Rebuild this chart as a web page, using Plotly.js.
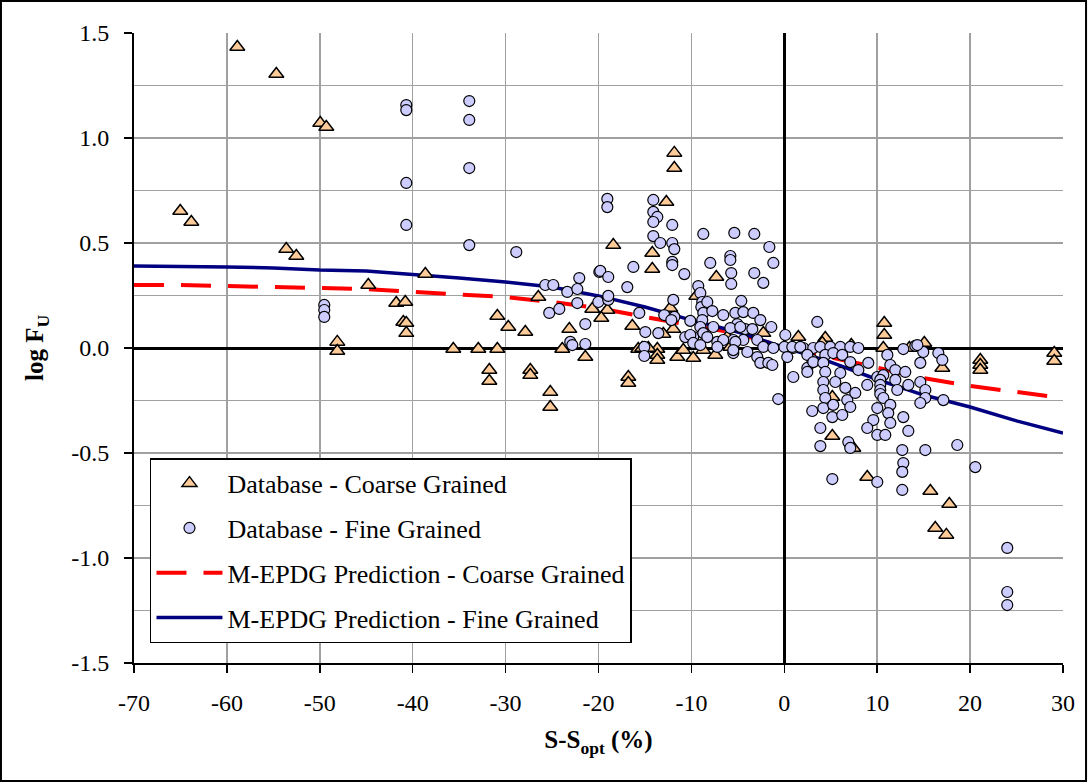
<!DOCTYPE html>
<html>
<head>
<meta charset="utf-8">
<script src="https://cdn.plot.ly/plotly-3.0.1.min.js"></script>
<style>html,body{margin:0;padding:0;background:#fff;}#chart{width:1088px;height:783px;}</style>
</head>
<body>
<div id="chart"></div>
<script>
// Database - Coarse Grained
const coarseX = [-58.88,-54.68,-49.95,-49.30,-65.02,-63.83,-53.61,-52.53,-38.64,-44.78,-41.77,-40.80,-41.01,-40.69,-40.69,-48.12,-48.12,-35.63,-32.94,-30.89,-30.89,-29.71,-27.88,-31.75,-31.75,-26.48,-27.34,-27.34,-25.19,-25.19,-23.14,-23.90,-21.42,-20.67,-11.84,-11.84,-12.70,-18.41,-14.21,-14.21,-7.32,-19.05,-19.70,-16.36,-11.95,-13.02,-12.27,-9.47,-13.67,-13.67,-13.67,-15.72,-11.52,-9.80,-7.43,-16.79,-16.79,-2.26,1.51,-10.87,-6.14,-15.29,-14.64,10.76,10.76,4.41,7.21,10.66,13.46,15.07,17.01,5.17,5.17,7.43,8.93,15.72,17.76,16.25,17.44,21.10,21.10,21.10,29.06,29.06,-8.72,-5.81,4.09];
const coarseY = [1.433,1.305,1.071,1.052,0.652,0.600,0.471,0.438,0.352,0.300,0.214,0.219,0.124,0.119,0.071,0.029,-0.014,-0.005,-0.005,-0.005,0.152,0.100,0.076,-0.105,-0.157,0.243,-0.105,-0.129,-0.210,-0.281,0.090,-0.005,-0.043,0.186,0.929,0.857,0.695,0.490,0.452,0.376,0.338,0.181,0.143,0.105,0.090,0.067,0.190,0.248,-0.005,-0.033,-0.057,-0.005,-0.043,-0.048,-0.033,-0.138,-0.167,0.071,0.052,-0.010,0.052,0.000,0.000,0.119,0.062,0.048,0.014,0.000,0.000,0.024,-0.095,-0.233,-0.419,-0.476,-0.614,-0.681,-0.743,-0.857,-0.890,-0.057,-0.081,-0.105,-0.024,-0.062,-0.010,0.005,0.024];

// Database - Fine Grained
const fineX = [-40.69,-40.69,-40.69,-40.69,-33.91,-33.91,-33.91,-33.91,-28.85,-49.52,-49.52,-49.52,-25.73,-24.87,-23.36,-22.28,-22.07,-19.91,-25.30,-24.22,-22.28,-21.42,-20.02,-23.04,-22.82,-21.42,-19.05,-19.05,-14.10,-14.10,-13.67,-14.10,-12.06,-14.10,-13.35,-12.06,-11.84,-12.06,-12.06,-10.76,-16.25,-16.90,-19.81,-18.95,-18.95,-18.95,-15.61,-14.96,-13.56,-15.07,-15.07,-11.95,-12.92,-11.84,-12.16,-10.12,-8.72,-5.38,-3.23,-1.61,-1.18,-7.97,-5.81,-5.81,-5.71,-5.71,-3.23,-2.26,-9.26,-9.04,-8.83,-8.93,-8.72,-8.83,-8.29,-7.75,-4.63,-6.57,-5.27,-4.41,-3.34,-2.58,-1.40,-9.04,-7.64,-5.06,-4.20,-3.44,-10.66,-9.80,-8.72,-7.21,-5.49,-4.41,-2.91,0.11,0.00,-2.26,-1.18,0.97,2.05,3.12,-5.49,-3.98,-2.91,-2.58,-1.72,-1.29,3.55,0.97,2.48,3.01,-10.12,-9.80,-5.81,-4.74,-8.29,-6.57,-5.27,-7.21,-5.49,0.32,-9.04,0.86,1.72,3.88,4.95,6.03,7.10,7.97,2.48,3.12,2.48,4.41,4.20,4.41,4.20,4.20,4.41,4.20,3.01,5.27,6.24,7.10,6.03,5.49,5.27,5.17,3.88,3.88,5.17,6.57,6.78,7.10,6.24,6.89,7.10,7.64,7.97,9.04,8.93,10.01,10.66,10.33,10.33,10.33,10.33,11.09,11.41,10.66,10.01,11.41,11.19,11.41,9.58,8.93,10.01,10.87,11.95,13.02,11.95,13.35,12.16,12.81,14.10,14.96,16.58,14.64,14.64,15.18,15.18,14.64,17.12,18.62,12.70,15.18,12.81,12.70,12.70,10.01,17.01,20.56,24.00,24.00,24.00,14.32,13.35,12.81,-0.65];
const fineY = [1.157,1.133,0.786,0.586,1.176,1.086,0.857,0.490,0.457,0.205,0.181,0.148,0.300,0.300,0.267,0.281,0.333,0.362,0.167,0.186,0.214,0.114,0.219,0.029,0.014,0.019,0.710,0.671,0.705,0.648,0.624,0.600,0.586,0.533,0.500,0.500,0.471,0.410,0.395,0.352,0.386,0.290,0.367,0.338,0.229,0.248,0.167,0.076,0.071,0.005,-0.038,0.229,0.157,0.148,0.133,0.129,0.543,0.548,0.543,0.481,0.405,0.405,0.438,0.419,0.357,0.305,0.357,0.310,0.295,0.262,0.219,0.195,0.167,0.133,0.219,0.176,0.224,0.157,0.167,0.171,0.167,0.133,0.100,0.100,0.100,0.114,0.090,0.090,0.052,0.052,0.071,0.029,0.038,0.038,0.038,0.062,0.005,0.005,0.000,0.000,0.000,0.000,-0.024,-0.019,-0.043,-0.071,-0.071,-0.081,0.124,-0.138,-0.095,-0.057,0.062,0.024,0.095,0.100,0.052,0.038,0.029,0.005,-0.010,-0.043,0.014,0.005,0.005,0.005,0.005,0.005,0.005,0.000,-0.033,-0.067,-0.114,-0.033,-0.071,-0.114,-0.162,-0.200,-0.238,-0.286,-0.300,-0.024,-0.033,-0.067,-0.119,-0.162,-0.271,-0.329,-0.381,-0.467,-0.624,-0.190,-0.248,-0.281,-0.319,-0.448,-0.476,-0.214,-0.105,-0.071,-0.176,-0.138,-0.129,-0.152,-0.176,-0.200,-0.219,-0.033,-0.081,-0.238,-0.286,-0.271,-0.310,-0.357,-0.343,-0.381,-0.414,-0.414,-0.105,-0.114,-0.152,-0.176,-0.200,-0.005,0.010,-0.019,-0.024,-0.071,-0.162,-0.200,-0.238,-0.262,-0.248,-0.462,-0.486,-0.486,-0.548,-0.590,-0.676,-0.638,-0.057,-0.567,-0.952,-1.162,-1.224,0.014,-0.395,-0.329,-0.243];

// M-EPDG predictions
const predX = [-70,-65,-60,-55,-50,-45,-40,-35,-30,-25,-20,-15,-10,-5,0,5,10,15,20,25,30];
const predCoarseY = [0.300,0.300,0.295,0.290,0.286,0.281,0.267,0.257,0.243,0.219,0.190,0.148,0.110,0.068,0.005,-0.043,-0.095,-0.143,-0.181,-0.210,-0.238];
const predFineY = [0.390,0.390,0.386,0.381,0.371,0.367,0.352,0.333,0.314,0.290,0.248,0.195,0.133,0.076,0.003,-0.067,-0.150,-0.224,-0.281,-0.347,-0.405];

const xTickVals = [-70,-60,-50,-40,-30,-20,-10,0,10,20,30];
const yTickVals = [-1.5,-1.0,-0.5,0.0,0.5,1.0,1.5];

const FONT = "'Liberation Serif', 'Times New Roman', serif";
const TICK_FS = 24;
const LEG_FS = 26;
const TITLE_FS = 25;
const GRID = '#a0a0a0';

const traces = [
  {x: predX, y: predCoarseY, type: 'scatter', mode: 'lines', name: 'M-EPDG Prediction - Coarse Grained',
   line: {color: '#ff0000', width: 4, dash: '30px,17px'}, legendgroup: 'c', legendrank: 3},
  {x: predX, y: predFineY, type: 'scatter', mode: 'lines', name: 'M-EPDG Prediction - Fine Grained',
   line: {color: '#000080', width: 3.5}, legendgroup: 'd', legendrank: 4},
  {x: coarseX, y: coarseY, type: 'scatter', mode: 'markers', name: 'Database - Coarse Grained',
   marker: {symbol: 'triangle-up', size: 13, color: '#FFCC99', line: {color: '#000', width: 1.5}}, legendgroup: 'a', legendrank: 1},
  {x: fineX, y: fineY, type: 'scatter', mode: 'markers', name: 'Database - Fine Grained',
   marker: {symbol: 'circle', size: 11, color: '#CCCCFF', line: {color: '#000', width: 1.2}}, legendgroup: 'b', legendrank: 2}
];

const layout = {
  width: 1088, height: 783,
  margin: {l: 134, r: 25, t: 33, b: 120},
  paper_bgcolor: '#fff', plot_bgcolor: '#fff',
  font: {family: FONT, size: TICK_FS, color: '#000'},
  showlegend: true,
  xaxis: {
    range: [-70, 30], tickvals: xTickVals, ticktext: xTickVals.map(String),
    showgrid: true, gridcolor: GRID, gridwidth: 1.5,
    zeroline: true, zerolinecolor: '#000', zerolinewidth: 3,
    showline: true, linecolor: '#000', linewidth: 2,
    ticks: 'outside', ticklen: 8, tickwidth: 1.5, tickcolor: '#000',
    tickfont: {family: FONT, size: TICK_FS, color: '#000'}, ticklabelstandoff: 9,
    title: {text: '<b>S-S<sub>opt</sub> (%)</b>', font: {family: FONT, size: TITLE_FS, color: '#000'}, standoff: 16}
  },
  yaxis: {
    range: [-1.5, 1.5], tickvals: yTickVals, ticktext: yTickVals.map(v => v.toFixed(1)),
    showgrid: true, gridcolor: GRID, gridwidth: 1.5,
    minor: {tickvals: [-1.25,-0.75,-0.25,0.25,0.75,1.25], showgrid: true, gridcolor: GRID, gridwidth: 1.5, ticks: ''},
    zeroline: true, zerolinecolor: '#000', zerolinewidth: 3,
    showline: true, linecolor: '#000', linewidth: 2,
    ticks: 'outside', ticklen: 8, tickwidth: 1.5, tickcolor: '#000',
    tickfont: {family: FONT, size: TICK_FS, color: '#000'}, ticklabelstandoff: 10,
    title: {text: '<b>log F<sub>U</sub></b>', font: {family: FONT, size: TITLE_FS, color: '#000'}, standoff: 20}
  },
  legend: {
    x: 0.0172, y: 0.325, xanchor: 'left', yanchor: 'top',
    bgcolor: '#fff', bordercolor: '#000', borderwidth: 1.5,
    font: {family: FONT, size: LEG_FS, color: '#000'},
    itemwidth: 66, traceorder: 'grouped', tracegroupgap: 8
  },
  shapes: [{type: 'rect', xref: 'paper', yref: 'paper', x0: -0.1432, x1: 1.0248, y0: -0.1873, y1: 1.0508,
            line: {color: '#000', width: 2}, fillcolor: 'rgba(0,0,0,0)', layer: 'above'}]
};

Plotly.newPlot('chart', traces, layout, {displayModeBar: false, staticPlot: true});
</script>
</body>
</html>
